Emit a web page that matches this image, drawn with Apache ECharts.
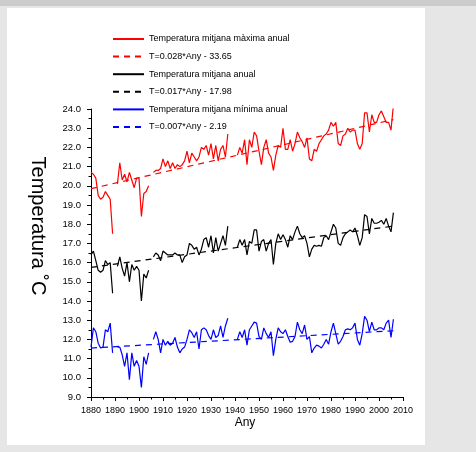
<!DOCTYPE html>
<html>
<head>
<meta charset="utf-8">
<script src="https://cdn.jsdelivr.net/npm/echarts@6/dist/echarts.min.js"></script>
<style>
  html, body { margin: 0; padding: 0; background: #e6e6e6; width: 476px; height: 452px; overflow: hidden; }
  #topbar { position: absolute; left: 0; top: 0; width: 476px; height: 6px; background: #cccccc; }
  #panel { position: absolute; left: 7px; top: 8px; width: 418px; height: 437px; background: #ffffff; }
  #chart { position: absolute; left: 0; top: 0; width: 476px; height: 452px; }
</style>
</head>
<body>
<div id="topbar"></div>
<div id="panel"></div>
<div id="chart"></div>
<script>
// ---- Data (years 1880..2006, null = missing year) ----
const firstYear = 1880;
const lastYear = 2006;

const tMax = [
  20.7, 20.6, 20.4, 19.5, 19.3, 19.4, 19.7, 19.5, 19.3, 17.5,
  null,
  20.1, 21.2, 20.3, 20.6, 20.2, 20.7, 20.3, 19.9, 20.4, 20.4, 18.4, 19.6, 19.7, 20.0,
  null,
  20.7, 20.8, 20.8, 20.9, 21.4, 21.0, 21.3, 20.9, 21.2, 20.9, 21.1, 21.0, 21.1, 21.3, 21.8, 21.2,
  21.7, 21.5, 21.3, 21.5, 22.0, 21.9, 22.1, 21.6, 22.2, 21.4, 22.1, 21.3, 21.9, 22.1, 21.5, 22.7,
  null, null, null,
  21.6, 22.0, 21.7, 22.4, 21.1, 22.4, 22.0, 22.8, 22.6, 21.8,
  21.1, 22.0, 22.4, 21.7, 21.5, 20.8, 21.6, 22.1, 22.0, 23.0,
  21.9, 21.9, 22.4, 21.8, 22.2, 22.8, 22.5, 22.3, 22.0, 22.5,
  21.4, 21.3, 21.9, 21.8, 22.2, 22.4, 22.6, 22.7, 22.9, 23.3,
  23.1, 23.3, 22.2, 22.1, 22.6, 22.7, 23.0, 22.8, 22.9, 22.9,
  22.2, 21.9, 22.2, 23.8, 23.8, 22.8, 23.7, 23.3, 23.3, 23.7,
  23.9, 23.6, 23.3, 23.3, 22.9, 24.2
];

const tMean = [
  16.4, 16.6, 16.1, 15.6, 15.5, 15.6, 16.1, 15.9, 16.0, 14.4,
  null,
  15.8, 16.3, 15.7, 15.3, 16.0, 15.0, 15.9, 15.6, 15.8, 15.6, 14.0, 15.4, 15.2, 15.6,
  null,
  16.3, 16.5, 16.4, 16.1, 16.6, 16.5, 16.4, 16.4, 16.4, 16.5, 16.4, 16.4, 16.0, 16.3, 16.4, 17.0,
  16.9, 16.7, 16.8, 16.4, 16.7, 17.2, 17.3, 16.8, 17.4, 16.5, 17.3, 16.6, 17.0, 17.4, 16.9, 17.9,
  null, null, null,
  16.8, 17.2, 16.9, 17.2, 16.4, 17.1, 17.0, 17.7, 17.7, 16.6,
  17.1, 17.2, 16.6, 17.0, 17.2, 15.9, 17.0, 17.5, 17.2, 17.45,
  17.2, 16.8, 17.4, 17.2, 17.6, 17.9, 17.5, 17.3, 17.4, 17.0,
  16.3, 16.7, 16.9, 16.85, 16.9, 16.85, 17.3, 17.4, 17.2, 17.6,
  18.0, 17.8, 17.0, 16.9, 17.3, 17.5, 17.6, 17.7, 17.6, 17.8,
  17.4, 16.9, 17.3, 18.5, 18.4, 17.5, 18.3, 18.05, 18.05, 18.1,
  18.2, 18.0, 18.3, 17.9, 17.6, 18.6
];

const tMin = [
  11.6, 12.6, 12.4, 11.8, 11.55, 11.6, 12.5, 12.4, 12.85, 11.3,
  null,
  11.6, 11.6, 11.2, 10.6, 11.3, 9.9, 11.3, 10.6, 10.9, 10.6, 9.5, 11.1, 10.7, 11.3,
  null,
  12.0, 12.4, 12.0, 11.3, 12.0, 11.7, 11.9, 11.7, 11.8, 12.1, 11.6, 11.3, 11.5, 11.6, 12.0, 12.5,
  12.35, 12.1, 12.4, 11.5, 12.5, 12.6, 12.5, 12.2, 12.0, 12.5, 12.1, 12.2, 12.7, 12.1, 12.7, 13.1,
  null, null, null,
  12.0, 12.4, 12.1, 12.5, 11.7, 12.5, 12.7, 12.9, 12.85, 12.15,
  12.0, 12.6, 12.3, 12.1, 12.4, 11.15, 12.0, 12.6, 12.4, 12.3,
  12.5, 12.15, 11.85, 11.9, 12.15, 12.9, 12.5, 12.3, 12.75, 12.0,
  12.15, 11.3, 11.55, 11.7, 11.65, 11.55, 11.75, 12.0, 11.75, 12.4,
  12.85, 12.3, 11.75, 11.9, 12.15, 12.5, 12.55, 12.5, 12.6, 12.85,
  12.0, 11.7, 12.3, 13.2, 13.0, 12.4, 12.9, 12.5, 12.5, 12.6,
  12.6, 12.5, 12.85, 13.0, 12.1, 13.05
];

// Trend lines (end points)
const trendYears = [1880, 2006];
const trendMax = [19.85, 23.45];
const trendMean = [15.75, 17.9];
const trendMin = [11.55, 12.45];

const seriesNames = [
  'Temperatura mitjana màxima anual',
  'T=0.028*Any - 33.65',
  'Temperatura mitjana anual',
  'T=0.017*Any - 17.98',
  'Temperatura mitjana mínima anual',
  'T=0.007*Any - 2.19'
];

const yTitle = 'Temperatura ˚C';
const xTitle = 'Any';

// ---- Build ----
const years = [];
for (let y = firstYear; y <= lastYear; y++) years.push(y);
const pairs = (vals) => years.map((y, i) => [y, vals[i] === null ? '-' : vals[i]]);
const tpairs = (vals) => trendYears.map((y, i) => [y, vals[i]]);

const FONT = "'Liberation Sans', Arial, sans-serif";
const RED = '#ff0000', BLACK = '#000000', BLUE = '#0000ff';
const DASH = [6, 5];

const chart = echarts.init(document.getElementById('chart'), null, { renderer: 'canvas' });

function dataSeries(name, vals, color) {
  return {
    name, type: 'line', data: pairs(vals), symbol: 'none', connectNulls: false,
    lineStyle: { color, width: 1.2 }, itemStyle: { color }, z: 2
  };
}
function trendSeries(name, vals, color) {
  return {
    name, type: 'line', data: tpairs(vals), symbol: 'none',
    lineStyle: { color, width: 1.2, type: DASH }, itemStyle: { color }, z: 3
  };
}

chart.setOption({
  animation: false,
  backgroundColor: 'transparent',
  grid: { left: 91, top: 109, right: 73, bottom: 55, containLabel: false },
  legend: {
    orient: 'vertical', left: 107, top: 29,
    itemWidth: 31, itemHeight: 10, itemGap: 7.6,
    itemStyle: { opacity: 0 },
    textStyle: { fontFamily: FONT, fontSize: 9, color: '#000', lineHeight: 10 },
    data: seriesNames,
    selectedMode: false
  },
  xAxis: {
    type: 'value', min: 1880, max: 2010, interval: 10,
    axisLine: { show: true, lineStyle: { color: '#000', width: 1 } },
    axisTick: { show: true, length: 4, lineStyle: { color: '#000' } },
    minorTick: { show: true, splitNumber: 2, length: 2.5, lineStyle: { color: '#000' } },
    splitLine: { show: false },
    axisLabel: { color: '#000', fontFamily: FONT, fontSize: 9, margin: 9, hideOverlap: false,
                 showMinLabel: true, showMaxLabel: true, formatter: v => String(v) }
  },
  yAxis: {
    type: 'value', min: 9, max: 24, interval: 1,
    axisLine: { show: true, lineStyle: { color: '#000', width: 1 } },
    axisTick: { show: true, length: 4, lineStyle: { color: '#000' } },
    minorTick: { show: true, splitNumber: 2, length: 2.5, lineStyle: { color: '#000' } },
    splitLine: { show: false },
    axisLabel: { color: '#000', fontFamily: FONT, fontSize: 9.5, margin: 10, formatter: v => v.toFixed(1) }
  },
  graphic: [
    { type: 'text', rotation: -Math.PI / 2, x: 38, y: 226,
      style: { text: yTitle, font: "20px 'Liberation Sans', Arial, sans-serif", fill: '#000', textAlign: 'center', textVerticalAlign: 'middle' } },
    { type: 'text', x: 245, y: 423,
      style: { text: xTitle, font: "12px 'Liberation Sans', Arial, sans-serif", fill: '#000', textAlign: 'center', textVerticalAlign: 'middle' } }
  ],
  series: [
    dataSeries(seriesNames[0], tMax, RED),
    trendSeries(seriesNames[1], trendMax, RED),
    dataSeries(seriesNames[2], tMean, BLACK),
    trendSeries(seriesNames[3], trendMean, BLACK),
    dataSeries(seriesNames[4], tMin, BLUE),
    trendSeries(seriesNames[5], trendMin, BLUE)
  ]
});
</script>
</body>
</html>
